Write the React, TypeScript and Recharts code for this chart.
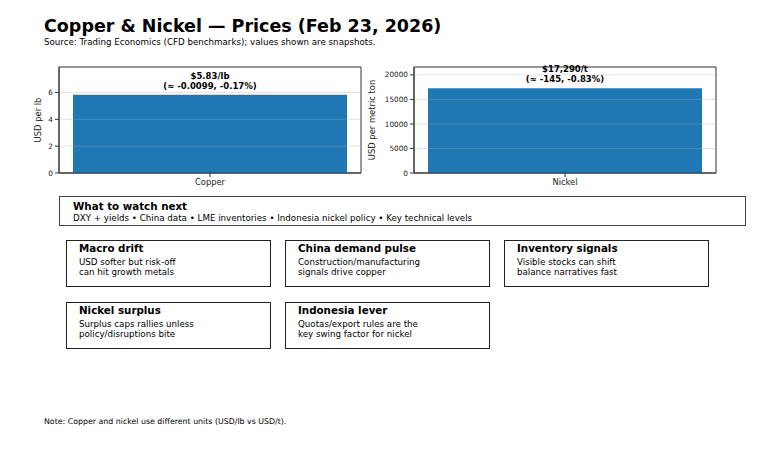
import { BarChart, Bar, XAxis, YAxis, ReferenceLine, ReferenceArea, LabelList, Label } from "recharts";

const metals = ["Copper", "Nickel"];
const prices = [5.83, 17290];
const priceLabels = ["$5.83/lb", "$17,290/t"];
const changeLabels = ["(≈ -0.0099, -0.17%)", "(≈ -145, -0.83%)"];
const unitLabels = ["USD per lb", "USD per metric ton"];
const yTicks = [
  [0, 2, 4, 6],
  [0, 5000, 10000, 15000, 20000],
];
const yMax = [7.9, 21600];

const watchItems = [
  "DXY + yields",
  "China data",
  "LME inventories",
  "Indonesia nickel policy",
  "Key technical levels",
];

const cardTitles = [
  "Macro drift",
  "China demand pulse",
  "Inventory signals",
  "Nickel surplus",
  "Indonesia lever",
];
const cardLines = [
  ["USD softer but risk-off", "can hit growth metals"],
  ["Construction/manufacturing", "signals drive copper"],
  ["Visible stocks can shift", "balance narratives fast"],
  ["Surplus caps rallies unless", "policy/disruptions bite"],
  ["Quotas/export rules are the", "key swing factor for nickel"],
];

const FONT = '"DejaVu Sans", Verdana, sans-serif';
const AXIS = "#333";

function MetalPanel({ i, left }: { i: number; left: number }) {
  const rows = [
    { name: metals[i], price: prices[i], top: priceLabels[i], bottom: changeLabels[i] },
  ];
  const ticks = yTicks[i];
  return (
    <div style={{ position: "absolute", left, top: 58 }}>
      <BarChart
        width={370}
        height={140}
        data={rows}
        margin={{ top: 9, right: 9, bottom: 5, left: 0 }}
        barCategoryGap={14}
      >
        <XAxis
          dataKey="name"
          height={20}
          stroke={AXIS}
          tickSize={4}
          tickMargin={2}
          tick={{ fontSize: 8.3, fill: "#222", fontFamily: FONT }}
        />
        <YAxis
          domain={[0, yMax[i]]}
          ticks={ticks}
          interval={0}
          width={59}
          stroke={AXIS}
          tickSize={4}
          tickMargin={2}
          tick={{ fontSize: 7.3, fill: "#222", fontFamily: FONT }}
        >
          <Label
            value={unitLabels[i]}
            angle={-90}
            position="insideLeft"
            offset={i === 0 ? 38 : 17}
            style={{ textAnchor: "middle", fontSize: 8.4, fill: "#222", fontFamily: FONT }}
          />
        </YAxis>
        <Bar dataKey="price" fill="#1f77b4" isAnimationActive={false}>
          <LabelList
            dataKey="top"
            position="top"
            offset={16}
            style={{ fontSize: 8.5, fontWeight: "bold", fill: "#000", fontFamily: FONT }}
          />
          <LabelList
            dataKey="bottom"
            position="top"
            offset={6}
            style={{ fontSize: 8.5, fontWeight: "bold", fill: "#000", fontFamily: FONT }}
          />
        </Bar>
        {ticks.map((t) => (
          <ReferenceLine key={t} y={t} stroke="#b0b0b0" strokeOpacity={0.35} />
        ))}
        {/* frame around the plot area, like matplotlib spines */}
        <ReferenceArea y1={0} y2={yMax[i]} fill="none" stroke={AXIS} strokeWidth={1} />
      </BarChart>
    </div>
  );
}

function Card({ idx, left, top }: { idx: number; left: number; top: number }) {
  return (
    <div
      style={{
        position: "absolute",
        left,
        top,
        width: 205,
        height: 47,
        boxSizing: "border-box",
        border: "1.4px solid #222",
        padding: "2px 0 0 12px",
      }}
    >
      <div style={{ fontSize: 10.3, fontWeight: "bold", lineHeight: "10.3px" }}>
        {cardTitles[idx]}
      </div>
      <div style={{ fontSize: 8.7, lineHeight: "10px", marginTop: 4 }}>
        {cardLines[idx].map((l) => (
          <div key={l}>{l}</div>
        ))}
      </div>
    </div>
  );
}

export default function App() {
  const cardPos = [
    [66, 240],
    [285, 240],
    [504, 240],
    [66, 302],
    [285, 302],
  ];
  return (
    <div
      style={{
        position: "absolute",
        left: 0,
        top: 0,
        width: 768,
        height: 453,
        background: "#fff",
        fontFamily: FONT,
        color: "#000",
        overflow: "hidden",
      }}
    >
      <div
        style={{
          position: "absolute",
          left: 44,
          top: 18,
          fontSize: 17.5,
          fontWeight: "bold",
          lineHeight: "17.5px",
          whiteSpace: "nowrap",
        }}
      >
        Copper &amp; Nickel — Prices (Feb 23, 2026)
      </div>
      <div
        style={{
          position: "absolute",
          left: 44,
          top: 38.3,
          fontSize: 8.7,
          lineHeight: "8.7px",
          whiteSpace: "nowrap",
        }}
      >
        Source: Trading Economics (CFD benchmarks); values shown are snapshots.
      </div>

      <MetalPanel i={0} left={0} />
      <MetalPanel i={1} left={355} />

      <div
        style={{
          position: "absolute",
          left: 59,
          top: 196,
          width: 687,
          height: 30,
          boxSizing: "border-box",
          border: "1px solid #444",
          padding: "4px 0 0 13px",
        }}
      >
        <div style={{ fontSize: 10.3, fontWeight: "bold", lineHeight: "10.3px" }}>
          What to watch next
        </div>
        <div style={{ fontSize: 8.7, lineHeight: "8.7px", marginTop: 3, whiteSpace: "nowrap" }}>
          {watchItems.join(" • ")}
        </div>
      </div>

      {cardPos.map(([l, t], idx) => (
        <Card key={idx} idx={idx} left={l} top={t} />
      ))}

      <div
        style={{
          position: "absolute",
          left: 44,
          top: 418.4,
          fontSize: 7.85,
          lineHeight: "7.85px",
          whiteSpace: "nowrap",
        }}
      >
        Note: Copper and nickel use different units (USD/lb vs USD/t).
      </div>
    </div>
  );
}
